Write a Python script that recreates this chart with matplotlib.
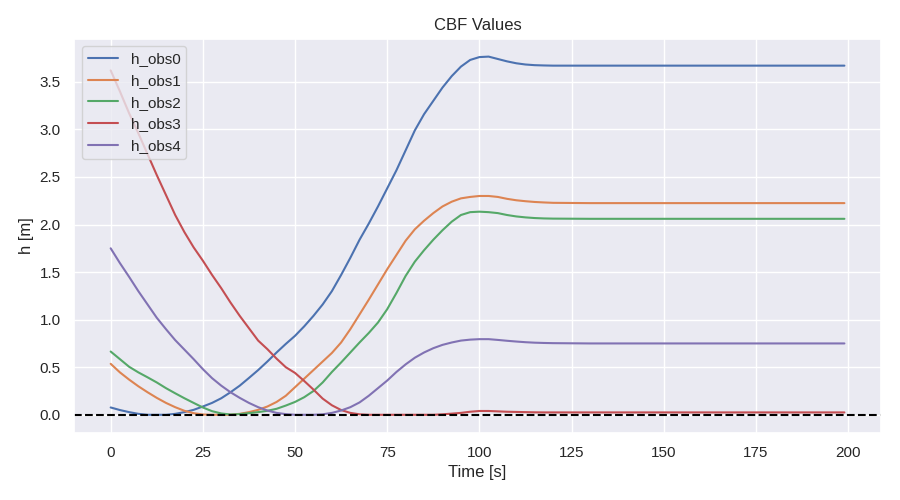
import matplotlib
matplotlib.use("Agg")
import matplotlib.pyplot as plt
import seaborn as sns

sns.set_theme(style="darkgrid")
plt.rcParams["font.family"] = ["Liberation Sans", "DejaVu Sans"]

time_s = [0, 2.5, 5, 7.5, 10, 12.5, 15, 17.5, 20, 22.5, 25, 27.5, 30, 32.5, 35, 37.5,
          40, 42.5, 45, 47.5, 50, 52.5, 55, 57.5, 60, 62.5, 65, 67.5, 70, 72.5, 75, 77.5,
          80, 82.5, 85, 87.5, 90, 92.5, 95, 97.5, 100, 102.5, 105, 107.5, 110, 112.5, 115,
          117.5, 120, 130, 140, 150, 160, 170, 180, 190, 199]

h_obs0 = [0.077, 0.05, 0.028, 0.01, 0.0, 0.0, 0.0, 0.01, 0.028, 0.052, 0.087, 0.125, 0.174,
          0.237, 0.306, 0.387, 0.47, 0.56, 0.655, 0.745, 0.83, 0.93, 1.04, 1.16, 1.30, 1.47,
          1.65, 1.84, 2.01, 2.19, 2.38, 2.57, 2.78, 2.99, 3.16, 3.30, 3.44, 3.56, 3.66, 3.73,
          3.76, 3.765, 3.74, 3.715, 3.695, 3.682, 3.675, 3.672, 3.67,
          3.67, 3.67, 3.67, 3.67, 3.67, 3.67, 3.67, 3.67]
h_obs1 = [0.536, 0.446, 0.37, 0.30, 0.237, 0.178, 0.125, 0.08, 0.042, 0.017, 0.003, 0.0, 0.0,
          0.0, 0.01, 0.028, 0.052, 0.087, 0.135, 0.20, 0.29, 0.38, 0.47, 0.56, 0.65, 0.76,
          0.90, 1.055, 1.21, 1.37, 1.53, 1.68, 1.83, 1.95, 2.04, 2.12, 2.19, 2.24, 2.275, 2.29,
          2.30, 2.30, 2.29, 2.27, 2.255, 2.245, 2.237, 2.232, 2.228,
          2.225, 2.225, 2.225, 2.225, 2.225, 2.225, 2.225, 2.225]
h_obs2 = [0.665, 0.585, 0.505, 0.446, 0.394, 0.34, 0.28, 0.226, 0.174, 0.125, 0.077, 0.038,
          0.014, 0.003, 0.007, 0.017, 0.028, 0.042, 0.063, 0.097, 0.135, 0.185, 0.25, 0.34,
          0.45, 0.55, 0.655, 0.76, 0.86, 0.97, 1.11, 1.28, 1.46, 1.61, 1.73, 1.84, 1.94, 2.03,
          2.10, 2.13, 2.135, 2.13, 2.12, 2.10, 2.085, 2.075, 2.068, 2.064, 2.062,
          2.06, 2.06, 2.06, 2.06, 2.06, 2.06, 2.06, 2.06]
h_obs3 = [3.62, 3.40, 3.17, 2.96, 2.74, 2.52, 2.31, 2.10, 1.92, 1.76, 1.62, 1.47, 1.33, 1.18,
          1.04, 0.91, 0.78, 0.69, 0.59, 0.50, 0.44, 0.355, 0.265, 0.17, 0.10, 0.05, 0.02,
          0.005, 0.0, 0.0, 0.0, 0.0, 0.0, 0.0, 0.0, 0.0, 0.005, 0.012, 0.02, 0.032,
          0.04, 0.04, 0.036, 0.032, 0.03, 0.028, 0.026, 0.025, 0.025,
          0.025, 0.025, 0.025, 0.025, 0.025, 0.025, 0.025, 0.025]
h_obs4 = [1.75, 1.595, 1.45, 1.30, 1.16, 1.02, 0.90, 0.785, 0.685, 0.585, 0.48, 0.385, 0.306,
          0.237, 0.178, 0.125, 0.08, 0.045, 0.02, 0.007, 0.0, 0.0, 0.0, 0.005, 0.02, 0.045,
          0.08, 0.13, 0.20, 0.28, 0.36, 0.45, 0.53, 0.60, 0.655, 0.70, 0.735, 0.76, 0.78, 0.79,
          0.795, 0.795, 0.787, 0.778, 0.77, 0.763, 0.758, 0.755, 0.753,
          0.75, 0.75, 0.75, 0.75, 0.75, 0.75, 0.75, 0.75]

series = [("h_obs0", h_obs0), ("h_obs1", h_obs1), ("h_obs2", h_obs2),
          ("h_obs3", h_obs3), ("h_obs4", h_obs4)]

fig = plt.figure(figsize=(9, 5), dpi=100)
ax = fig.add_axes([0.0822, 0.1346, 0.979 - 0.0822, 0.9226 - 0.1346])
for name, vals in series:
    ax.plot(time_s, vals, label=name, linewidth=1.5)
ax.axhline(0, color="black", linestyle="--", linewidth=1.5)
ax.set_title("CBF Values")
ax.set_xlabel("Time [s]")
ax.set_ylabel("h [m]")
ax.set_yticks([0.0, 0.5, 1.0, 1.5, 2.0, 2.5, 3.0, 3.5])
ax.legend(loc="upper left")
fig.savefig("out.png", dpi=100)
